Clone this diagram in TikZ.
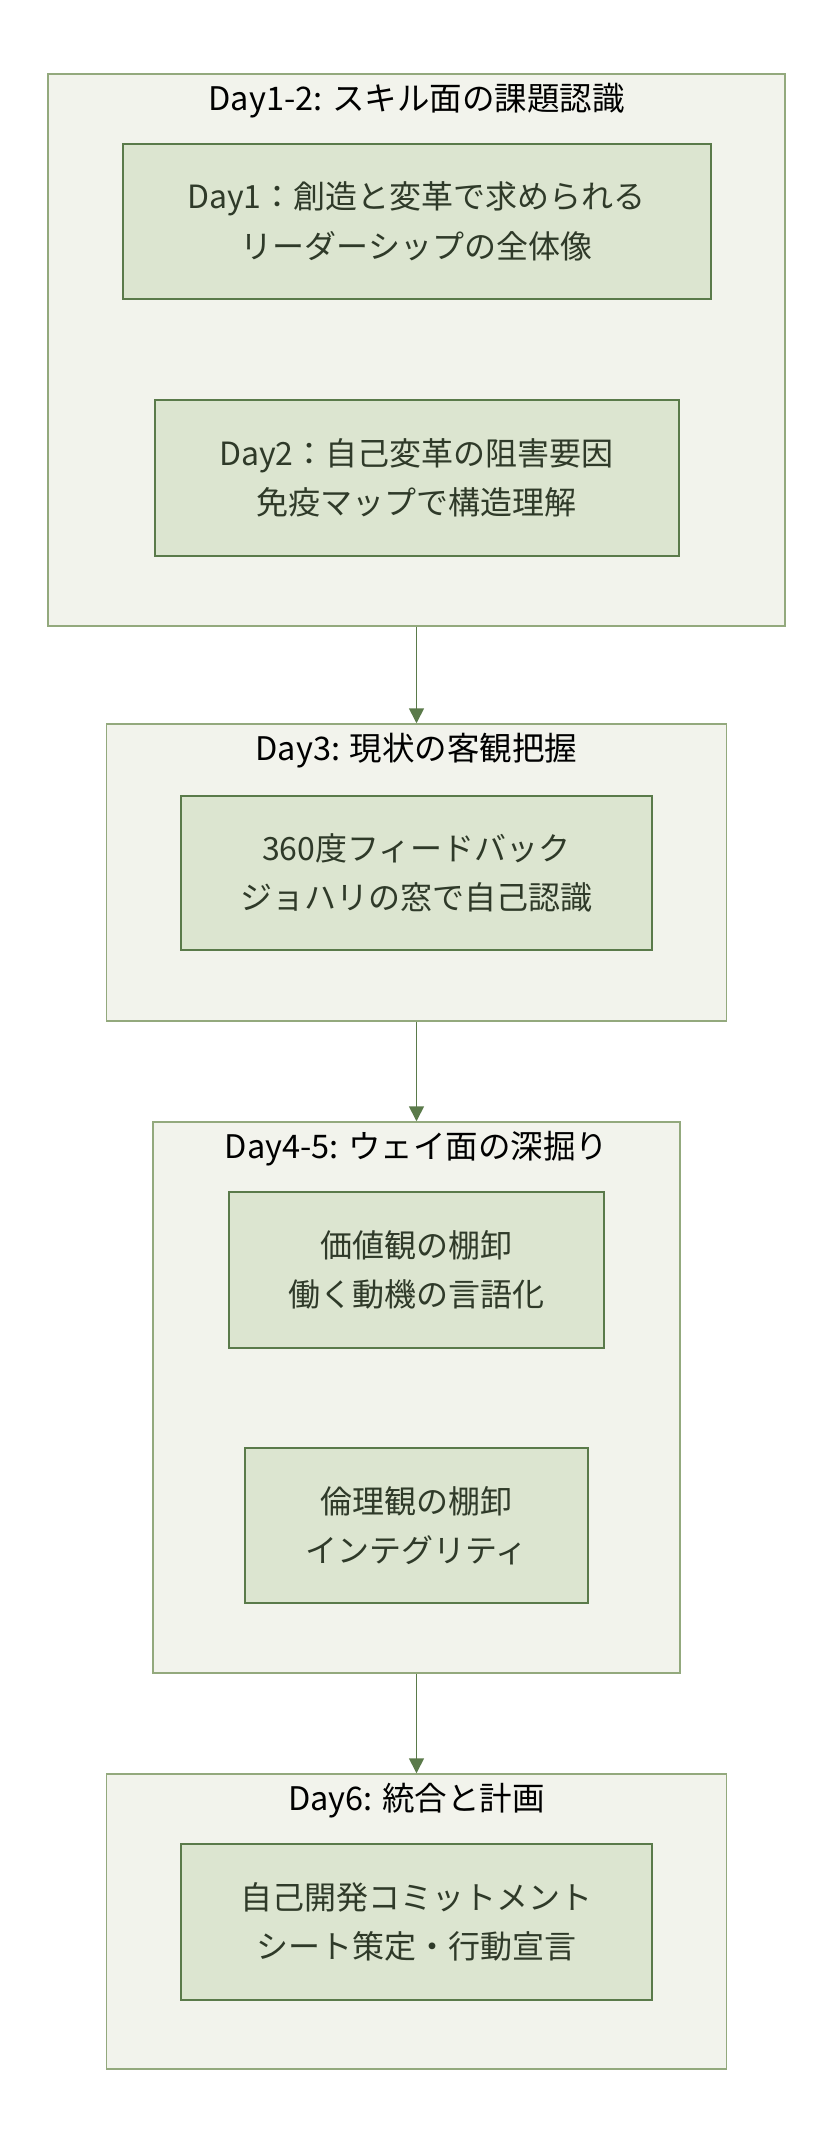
\documentclass[tikz,border=0pt]{standalone}
\usepackage{fontspec}
\setmainfont{Noto Sans CJK JP}
\usepackage{xcolor}
\usepackage{tikz}
\usetikzlibrary{positioning,arrows.meta}
\definecolor{phasefill}{HTML}{F2F3EC}
\definecolor{phaseline}{HTML}{93A97D}
\definecolor{stepfill}{HTML}{DCE5D0}
\definecolor{stepline}{HTML}{5A7A4A}
\definecolor{steptext}{HTML}{2F3A29}

\begin{document}
\begin{tikzpicture}[x=1pt,y=-1pt,
    phasebox/.style={draw=phaseline, fill=phasefill, line width=1.5pt, inner sep=0pt},
    phasetitle/.style={anchor=base, inner sep=0pt, font=\fontsize{32.5}{32.5}\selectfont},
    stepbox/.style={draw=stepline, fill=stepfill, line width=2pt, align=center, inner sep=0pt,
                    text=steptext, font=\fontsize{32}{49.5}\selectfont},
    flow/.style={draw=stepline, line width=1.6pt, -{Triangle[length=15pt,width=15pt]}}]
  \useasboundingbox (0,0) rectangle (834,2148);

  \node[phasebox, minimum width=737pt, minimum height=552pt] (skill) at (416.5,350) {};
  \node[phasetitle] (skilltitle) at (416.5,110) {Day1-2: スキル面の課題認識};
  \node[stepbox, minimum width=588pt, minimum height=155pt] (dayone) at (416.5,221.5)
    {Day1：創造と変革で求められる\\リーダーシップの全体像};
  \node[stepbox, minimum width=524pt, minimum height=156pt] (daytwo) at (416.5,478)
    {Day2：自己変革の阻害要因\\免疫マップで構造理解};

  \node[phasebox, minimum width=620pt, minimum height=297pt] (status) at (416.5,872.5) {};
  \node[phasetitle] (statustitle) at (416.5,760) {Day3: 現状の客観把握};
  \node[stepbox, minimum width=471pt, minimum height=154pt] (feedback) at (416.5,873)
    {360度フィードバック\\ジョハリの窓で自己認識};

  \node[phasebox, minimum width=527pt, minimum height=551pt] (way) at (416.5,1397.5) {};
  \node[phasetitle] (waytitle) at (416.5,1158) {Day4-5: ウェイ面の深掘り};
  \node[stepbox, minimum width=375pt, minimum height=156pt] (values) at (416.5,1270)
    {価値観の棚卸\\働く動機の言語化};
  \node[stepbox, minimum width=343pt, minimum height=155pt] (ethics) at (416.5,1525.5)
    {倫理観の棚卸\\インテグリティ};

  \node[phasebox, minimum width=620pt, minimum height=295pt] (plan) at (416.5,1921.5) {};
  \node[phasetitle] (plantitle) at (416.5,1810) {Day6: 統合と計画};
  \node[stepbox, minimum width=471pt, minimum height=156pt] (commit) at (416.5,1922)
    {自己開発コミットメント\\シート策定・行動宣言};

  \draw[flow] (skill.south) -- (status.north);
  \draw[flow] (status.south) -- (way.north);
  \draw[flow] (way.south) -- (plan.north);
\end{tikzpicture}
\end{document}
